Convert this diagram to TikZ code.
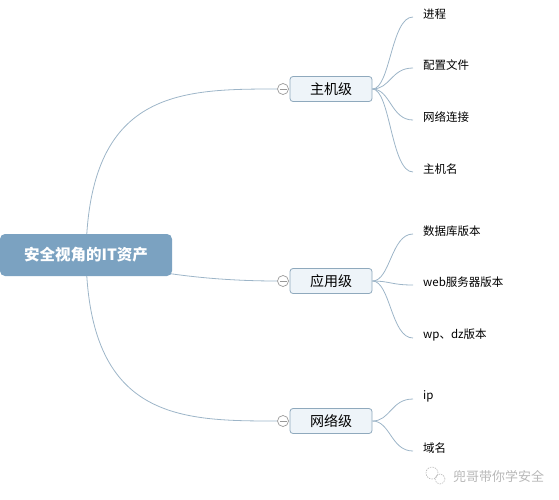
\documentclass[tikz,border=0pt]{standalone}
\usepackage{fontspec}
\setmainfont{Noto Sans CJK SC}
\usetikzlibrary{backgrounds}
\definecolor{rootfill}{HTML}{7BA2C1}
\definecolor{boxfill}{HTML}{EEF4F9}
\definecolor{boxline}{HTML}{8FA9BD}
\definecolor{conn}{HTML}{9DB5C8}
\definecolor{wm}{HTML}{B8B8B8}
\tikzset{
  rootbox/.style={draw=none, fill=rootfill, rounded corners=5pt, minimum width=172pt, minimum height=42pt, text=white, font=\bfseries\fontsize{15.5}{17}\selectfont, inner sep=0pt},
  midbox/.style={draw=boxline, line width=0.8pt, fill=boxfill, rounded corners=3pt, minimum width=82pt, minimum height=25pt, font=\fontsize{14}{16}\selectfont, inner sep=0pt},
  toggle/.style={circle, draw=gray!80, fill=white, line width=0.7pt, minimum size=11pt, inner sep=0pt},
  leaf/.style={anchor=west, font=\fontsize{11.5}{13}\selectfont, inner sep=0pt},
  link/.style={draw=conn, line width=0.8pt},
}
\begin{document}
\begin{tikzpicture}[x=1pt,y=-1pt]
\useasboundingbox (0,0) rectangle (559,499);
% root
\node[rootbox] (root) at (86,255) {安全视角的IT资产};
% mid nodes
\node[midbox] (host) at (331,89) {主机级};
\node[midbox] (app) at (331,281) {应用级};
\node[midbox] (net) at (331,421) {网络级};
% toggles
\node[toggle] (t1) at (283,89) {};
\node[toggle] (t2) at (283,281) {};
\node[toggle] (t3) at (283,421) {};
\foreach \t in {t1,t2,t3}{\draw[gray!80, line width=0.7pt] ([xshift=-3.5pt]\t.center) -- ([xshift=3.5pt]\t.center);}
% leaves
\node[leaf] (l1) at (423,14) {进程};
\node[leaf] (l2) at (423,65) {配置文件};
\node[leaf] (l3) at (423,117) {网络连接};
\node[leaf] (l4) at (423,169) {主机名};
\node[leaf] (l5) at (423,231) {数据库版本};
\node[leaf] (l6) at (423,282) {web服务器版本};
\node[leaf] (l7) at (423,335) {wp、dz版本};
\node[leaf] (l8) at (423,396) {ip};
\node[leaf] (l9) at (423,448) {域名};
% watermark
\node[anchor=west, text=wm, font=\fontsize{13}{15}\selectfont, inner sep=0pt] (wmk) at (453,476) {兜哥带你学安全};
\draw[wm, line width=0.6pt, dash pattern=on 1.5pt off 1pt] (432,473) circle (6pt);
\draw[wm, line width=0.6pt, dash pattern=on 1.5pt off 1pt] (440,479) circle (5pt);
% connectors
\begin{scope}[on background layer]
\draw[link] (root.center) .. controls (88,90) and (180,89) .. (t1.west);
\draw[link] (root.center) .. controls (150,275) and (220,281) .. (t2.west);
\draw[link] (root.center) .. controls (88,420) and (180,421) .. (t3.west);
\foreach \m/\l in {host/l1,host/l2,host/l3,host/l4,app/l5,app/l6,app/l7,net/l8,net/l9}{
  \draw[link] (\m.east) .. controls +(18,0) and ([xshift=-32pt,yshift=-3pt]\l.west) .. ([xshift=-10pt,yshift=-3pt]\l.west);
}
\end{scope}
\end{tikzpicture}
\end{document}
